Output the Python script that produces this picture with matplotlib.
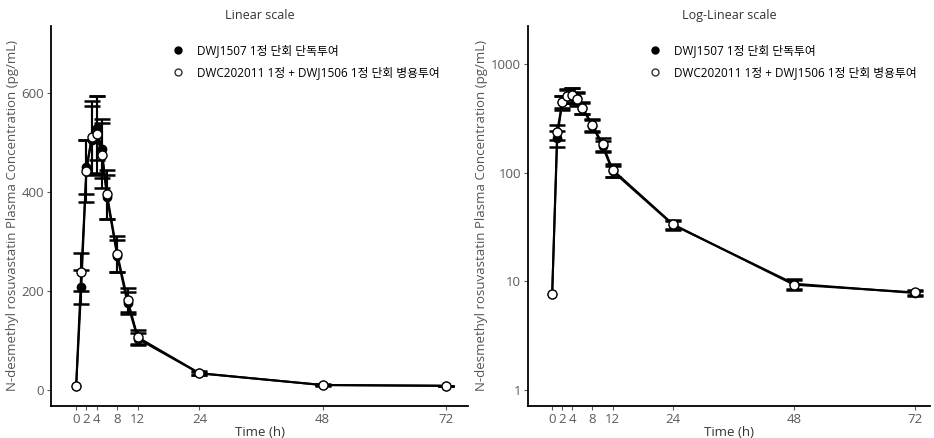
import matplotlib
matplotlib.use("Agg")
import matplotlib.pyplot as plt

plt.rcParams['font.family'] = ['Open Sans', 'Noto Sans CJK KR', 'DejaVu Sans']

# sampling times (h)
time_h = [0, 1, 2, 3, 4, 5, 6, 8, 10, 12, 24, 48, 72]

# DWJ1507 1정 단회 단독투여 (filled)
mono_mean = [7.6, 208, 450, 505, 529, 488, 390, 270, 175, 103, 33.0, 9.5, 7.8]
mono_sd = [0.0, 35, 55, 70, 65, 60, 45, 32, 22, 12, 3.0, 1.0, 0.4]

# DWC202011 1정 + DWJ1506 1정 단회 병용투여 (open)
combo_mean = [7.6, 238, 442, 511, 517, 474, 395, 275, 182, 106, 33.4, 9.3, 7.9]
combo_sd = [0.0, 38, 63, 74, 78, 65, 50, 36, 24, 14, 3.5, 1.0, 0.4]

xticks = [0, 2, 4, 8, 12, 24, 48, 72]
mono_label = "DWJ1507 1정 단회 단독투여"
combo_label = "DWC202011 1정 + DWJ1506 1정 단회 병용투여"
ylabel = "N-desmethyl rosuvastatin Plasma Concentration (pg/mL)"

tick_gray = "#5a5a5a"

fig = plt.figure(figsize=(9.34, 4.38), dpi=100)
ax_lin = fig.add_axes([0.0546, 0.0731, 0.4465, 0.8676])
ax_log = fig.add_axes([0.5653, 0.0731, 0.4304, 0.8676])


def draw(ax, legend_x):
    # error bars only where there is spread (not at time 0)
    ax.errorbar(time_h[1:], mono_mean[1:], yerr=mono_sd[1:], fmt="none",
                ecolor="black", capsize=6, capthick=1.8, elinewidth=1.5,
                zorder=2)
    ax.errorbar(time_h[1:], combo_mean[1:], yerr=combo_sd[1:], fmt="none",
                ecolor="black", capsize=6, capthick=1.8, elinewidth=1.5,
                zorder=2)
    ax.plot(time_h, mono_mean, color="black", lw=1.5, marker="o", ms=6,
            mfc="black", mec="black", zorder=3)
    ax.plot(time_h, combo_mean, color="black", lw=1.5, marker="o", ms=6.5,
            mfc="white", mec="black", mew=1, zorder=4)
    # legend handles
    ax.plot([], [], ls="none", marker="o", ms=5, mfc="black", mec="black",
            label=mono_label)
    ax.plot([], [], ls="none", marker="o", ms=5, mfc="white", mec="#333333",
            label=combo_label)
    ax.set_xticks(xticks)
    ax.set_xticklabels([str(t) for t in xticks])
    ax.set_xlabel("Time (h)", fontsize=9.5, color="#333333", labelpad=0)
    ax.set_ylabel(ylabel, fontsize=9.5, color="#555555", labelpad=2)
    for s in ["top", "right"]:
        ax.spines[s].set_visible(False)
    for s in ["left", "bottom"]:
        ax.spines[s].set_linewidth(1.3)
    ax.tick_params(axis="both", colors=tick_gray, labelsize=9.5, length=3,
                   width=0.8, pad=2)
    ax.tick_params(axis="both", which="minor", length=0)
    ax.legend(loc="upper left", bbox_to_anchor=(legend_x, 0.965),
              frameon=False, fontsize=8.5, handletextpad=1.1,
              labelspacing=0.75, borderaxespad=0, handlelength=1.0)


draw(ax_lin, 0.28)
ax_lin.set_xlim(-4.9, 76.3)
ax_lin.set_ylim(-33, 736)
ax_lin.set_yticks([0, 200, 400, 600])
ax_lin.set_title("Linear scale", fontsize=9, color="#333333", pad=5)

draw(ax_log, 0.29)
ax_log.set_yscale("log")
ax_log.set_xlim(-4.8, 75.0)
ax_log.set_ylim(0.713, 2230)
ax_log.set_yticks([1, 10, 100, 1000])
ax_log.set_yticklabels(["1", "10", "100", "1000"])
ax_log.minorticks_off()
ax_log.set_title("Log-Linear scale", fontsize=9, color="#333333", pad=5)

fig.savefig("out.png", dpi=100)
